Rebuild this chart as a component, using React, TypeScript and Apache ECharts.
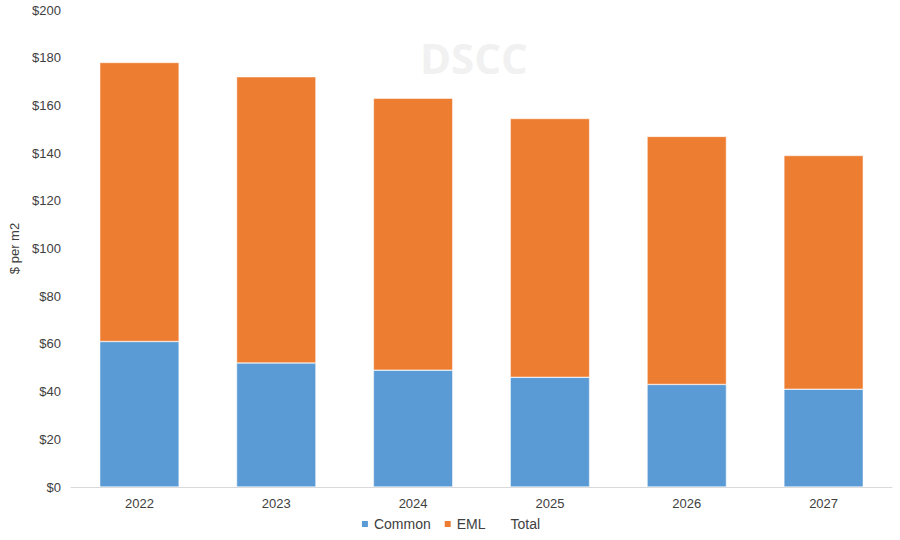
import React, { useEffect, useRef } from "react";
import * as echarts from "echarts";

const years = ["2022", "2023", "2024", "2025", "2026", "2027"];
const common = [61, 52, 49, 46, 43, 41];
const eml = [117, 120, 114, 108.5, 104, 98];
const total = [178, 172, 163, 154.5, 147, 139];

export default function App() {
  const ref = useRef<HTMLDivElement>(null);
  useEffect(() => {
    const chart = echarts.init(ref.current!, null, { renderer: "svg" });
    const font = "Liberation Sans, Arial, sans-serif";
    chart.setOption({
      animation: false,
      textStyle: { fontFamily: font },
      grid: { left: 70, right: 8, top: 10, bottom: 53 },
      graphic: [
        {
          type: "text",
          left: 420,
          top: 36,
          z: 0,
          style: {
            text: "DSCC",
            fontSize: 42,
            fontWeight: "bold",
            fontFamily: "Open Sans, sans-serif",
            fill: "#f1f1f1",
          },
        },
      ],
      legend: {
        bottom: 4,
        left: "center",
        itemWidth: 8,
        itemHeight: 8,
        itemGap: 12,
        textStyle: { fontSize: 14, color: "#404040", fontFamily: font },
        data: [
          { name: "Common", icon: "rect" },
          { name: "EML", icon: "rect" },
          { name: "Total", icon: "rect", itemStyle: { color: "rgba(0,0,0,0)", opacity: 0 } },
        ],
      },
      xAxis: {
        type: "category",
        data: years,
        axisLine: { lineStyle: { color: "#d9d9d9", width: 1 } },
        axisTick: { show: false },
        axisLabel: { color: "#404040", fontSize: 13, margin: 10 },
      },
      yAxis: {
        type: "value",
        min: 0,
        max: 200,
        interval: 20,
        name: "$ per m2",
        nameLocation: "middle",
        nameGap: 50,
        nameTextStyle: { color: "#404040", fontSize: 13 },
        axisLine: { show: false },
        axisTick: { show: false },
        splitLine: { show: false },
        axisLabel: {
          color: "#404040",
          fontSize: 13,
          margin: 10,
          formatter: (v: number) => "$" + v,
        },
      },
      series: [
        {
          name: "Common",
          type: "bar",
          stack: "a",
          data: common,
          barWidth: "58%",
          itemStyle: { color: "#5B9BD5", borderColor: "#ffffff", borderWidth: 0.5 },
        },
        {
          name: "EML",
          type: "bar",
          stack: "a",
          data: eml,
          barWidth: "58%",
          itemStyle: { color: "#ED7D31", borderColor: "#ffffff", borderWidth: 0.5 },
        },
        {
          name: "Total",
          type: "line",
          data: total,
          symbol: "none",
          lineStyle: { opacity: 0 },
          itemStyle: { color: "rgba(0,0,0,0)" },
          silent: true,
        },
      ],
    });
    return () => chart.dispose();
  }, []);
  return <div ref={ref} style={{ width: 900, height: 540, position: "absolute", left: 0, top: 0 }} />;
}
